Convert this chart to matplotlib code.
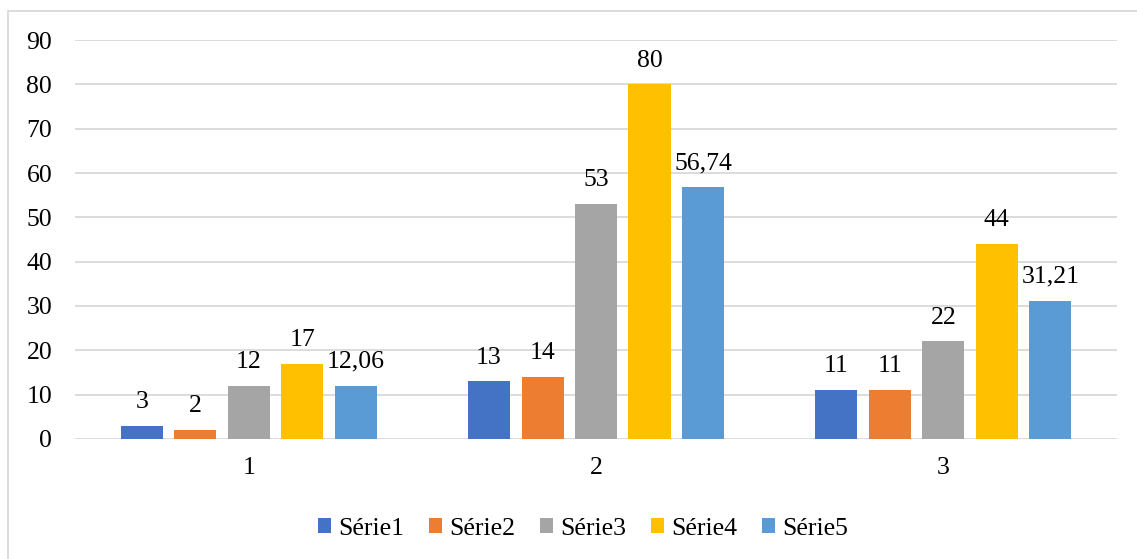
import numpy as np
import matplotlib.pyplot as plt
from matplotlib.patches import Rectangle

plt.rcParams['font.family'] = ['Liberation Serif', 'DejaVu Serif']

# 数据
categories = ["1", "2", "3"]
series_names = ["Série1", "Série2", "Série3", "Série4", "Série5"]
serie1 = [3, 13, 11]
serie2 = [2, 14, 11]
serie3 = [12, 53, 22]
serie4 = [17, 80, 44]
serie5 = [12.06, 56.74, 31.21]
colors = ["#4472c4", "#ed7d31", "#a5a5a5", "#ffc000", "#5b9bd5"]

fs = 18.5


def fmt(v):
    if float(v).is_integer():
        return str(int(v))
    return ("%.2f" % v).replace(".", ",")


fig = plt.figure(figsize=(11.37, 5.59), dpi=100)
ax = fig.add_axes([0.066, 0.2147, 0.9164, 0.7137])

x = np.arange(1, len(categories) + 1)
step = 0.154
width = 0.121
all_series = [serie1, serie2, serie3, serie4, serie5]
for i, (name, vals, col) in enumerate(zip(series_names, all_series, colors)):
    pos = x + (i - 2) * step
    ax.bar(pos, vals, width, color=col, label=name, zorder=3)
    for p, v in zip(pos, vals):
        ax.text(p, v + 4.0, fmt(v), ha="center", va="baseline", fontsize=fs, color="#000000")

ax.set_xlim(0.5, 3.5)
ax.set_ylim(0, 90)
ax.set_yticks(range(0, 91, 10))
ax.set_xticks(x)
ax.set_xticklabels(categories)
ax.grid(axis="y", color="#d9d9d9", linewidth=1.3, zorder=0)
for s in ["top", "right", "left", "bottom"]:
    ax.spines[s].set_visible(False)
ax.tick_params(axis="both", length=0, labelsize=fs, colors="#000000")
ax.tick_params(axis="y", pad=16.5)
ax.tick_params(axis="x", pad=13)

ax.legend(loc="center", bbox_to_anchor=(0.4875, -0.225), ncol=5, frameon=False, fontsize=fs,
          handlelength=0.5, handleheight=0.5, handletextpad=0.3, columnspacing=0.95)

# 外框
fig.patches.append(Rectangle((8 / 1137, -0.05), 1.2, 548 / 559 + 0.05,
                             transform=fig.transFigure, fill=False,
                             edgecolor="#d9d9d9", linewidth=1.3))

plt.savefig("out.png", dpi=100)
